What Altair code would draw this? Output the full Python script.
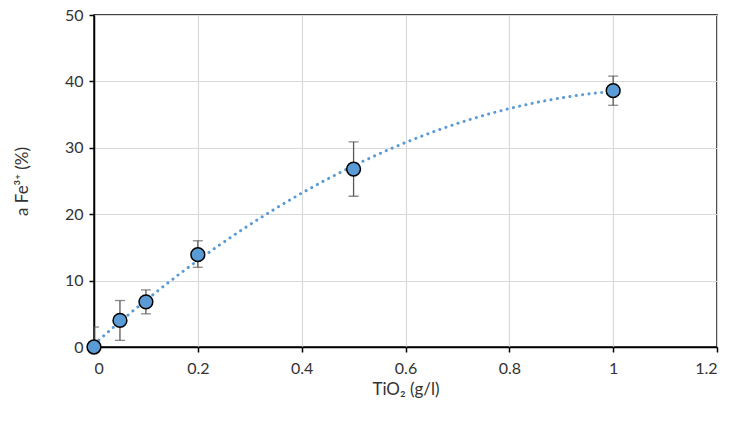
import altair as alt
import pandas as pd

x_vals = [0, 0.05, 0.1, 0.2, 0.5, 1.0]
y_vals = [0, 4.0, 6.8, 13.9, 26.8, 38.6]
err_lo = [-3.0, 1.0, 5.0, 12.0, 22.7, 36.4]
err_hi = [3.0, 7.0, 8.6, 16.0, 30.9, 40.8]

df = pd.DataFrame({"x": x_vals, "y": y_vals, "lo": err_lo, "hi": err_hi})

FONT = "Lato"
BLUE = "#5b9bd5"
GREY = "#595959"
TXT = "#333333"

xs = alt.Scale(domain=[0, 1.2], nice=False, zero=False)
ys = alt.Scale(domain=[0, 50], nice=False)

common = dict(labelFont=FONT, titleFont=FONT, labelFontSize=16, titleFontSize=17,
              labelColor=TXT, titleColor=TXT, titleFontWeight="normal",
              gridColor="#d9d9d9", gridWidth=1.2, domainColor="black", domainWidth=1.5,
              tickColor="black", tickSize=5, tickWidth=1.5)

x_axis = alt.Axis(values=[0, 0.2, 0.4, 0.6, 0.8, 1.0, 1.2], title="TiO₂ (g/l)",
                  labelExpr="datum.value == 0 ? '0' : datum.value == 1 ? '1' : format(datum.value, '.1f')",
                  titlePadding=5, labelPadding=8, **common)
y_axis = alt.Axis(values=[0, 10, 20, 30, 40, 50], title="a Fe³⁺ (%)",
                  titlePadding=33, labelPadding=6, **common)

base = alt.Chart(df)

trend = base.transform_regression("x", "y", method="poly", order=2).mark_line(
    color=BLUE, strokeWidth=3, strokeDash=[0.1, 6.3], strokeCap="round"
).encode(x=alt.X("x:Q", scale=xs, axis=x_axis), y=alt.Y("y:Q", scale=ys, axis=y_axis))

rules = base.mark_rule(color=GREY, strokeWidth=1.3, clip=True).encode(
    x=alt.X("x:Q", scale=xs), y=alt.Y("lo:Q", scale=ys), y2="hi:Q")
caps_lo = base.mark_tick(color=GREY, orient="horizontal", size=10, thickness=1.3, clip=True).encode(
    x=alt.X("x:Q", scale=xs), y=alt.Y("lo:Q", scale=ys))
caps_hi = base.mark_tick(color=GREY, orient="horizontal", size=10, thickness=1.3, clip=True).encode(
    x=alt.X("x:Q", scale=xs), y=alt.Y("hi:Q", scale=ys))

points = base.mark_point(filled=True, fill=BLUE, stroke="black", strokeWidth=1.5,
                         size=190, opacity=1, shape="circle").encode(
    x=alt.X("x:Q", scale=xs), y=alt.Y("y:Q", scale=ys))

chart = alt.layer(trend, rules, caps_lo, caps_hi, points).properties(
    width=623, height=332,
    autosize=alt.AutoSizeParams(type="none"),
    padding={"left": 86, "top": 7, "right": 10, "bottom": 60},
).configure_view(stroke="black", strokeWidth=1.5)

chart.save("out.html", embed_options={"renderer": "svg", "actions": False})
